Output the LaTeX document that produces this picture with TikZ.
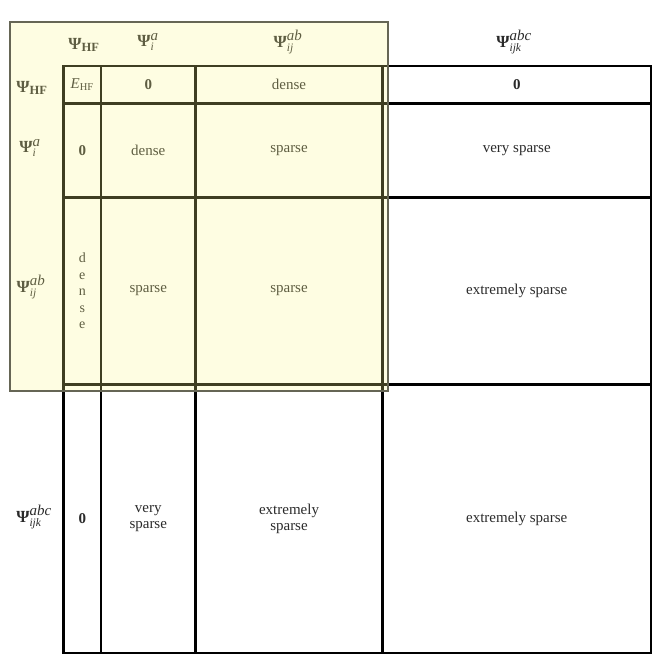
\documentclass[tikz,border=0pt]{standalone}
\usepackage{amsmath}
\usepackage{fontspec}
\setmainfont{Liberation Serif}
\definecolor{hl}{HTML}{FCF88A}
\definecolor{hlborder}{HTML}{666655}
\definecolor{txt}{HTML}{2A2A2A}
\newcommand{\Psiop}[2]{$\textbf{Ψ}^{\text{\fontsize{15}{15}\selectfont\textit{#1}}}_{\text{\fontsize{11.5}{12}\selectfont\textit{#2}}}$}
\newcommand{\PsiHF}{$\textbf{Ψ}_{\text{\fontsize{12.5}{13}\selectfont\textbf{HF}}}$}
\begin{document}
\begin{tikzpicture}[x=1pt,y=-1pt,
  cell/.style={draw=black, line width=2.2pt, inner sep=0pt, outer sep=0pt,
    align=center, text=txt, font=\fontsize{15}{16}\selectfont},
  hdr/.style={text=txt, inner sep=0pt, font=\fontsize{17}{19}\selectfont},
  hlbox/.style={fill=hl, fill opacity=0.25, draw=hlborder, draw opacity=1, line width=1.3pt}]
\useasboundingbox (0,0) rectangle (663,667);
% row 1
\node[cell, minimum width=37.5pt, minimum height=37.5pt] (c11) at (82.25,84.75) {$\textit{E}_{\text{HF}}$};
\node[cell, minimum width=94.5pt, minimum height=37.5pt] (c12) at (148.25,84.75) {\textbf{0}};
\node[cell, minimum width=187pt, minimum height=37.5pt] (c13) at (289,84.75) {dense};
\node[cell, minimum width=268.5pt, minimum height=37.5pt] (c14) at (516.75,84.75) {\textbf{0}};
% row 2
\node[cell, minimum width=37.5pt, minimum height=94pt] (c21) at (82.25,150.5) {\textbf{0}};
\node[cell, minimum width=94.5pt, minimum height=94pt] (c22) at (148.25,150.5) {dense};
\node[cell, minimum width=187pt, minimum height=94pt] (c23) at (289,150.5) {sparse};
\node[cell, minimum width=268.5pt, minimum height=94pt] (c24) at (516.75,150.5) {very sparse};
% row 3
\node[cell, minimum width=37.5pt, minimum height=187pt, font=\fontsize{14}{16.5}\selectfont] (c31) at (82.25,291) {d\\e\\n\\s\\e};
\node[cell, minimum width=94.5pt, minimum height=187pt] (c32) at (148.25,291) {sparse};
\node[cell, minimum width=187pt, minimum height=187pt] (c33) at (289,291) {sparse};
\node[cell, minimum width=268.5pt, minimum height=187pt] (c34) at (516.75,291) {extremely sparse};
% row 4
\node[cell, minimum width=37.5pt, minimum height=268.5pt] (c41) at (82.25,518.75) {\textbf{0}};
\node[cell, minimum width=94.5pt, minimum height=268.5pt] (c42) at (148.25,518.75) {very\\sparse};
\node[cell, minimum width=187pt, minimum height=268.5pt] (c43) at (289,518.75) {extremely\\sparse};
\node[cell, minimum width=268.5pt, minimum height=268.5pt] (c44) at (516.75,518.75) {extremely sparse};
% column headers
\node[hdr] (h1) at (84,45) {\PsiHF};
\node[hdr] (h2) at (148,42) {\Psiop{a}{i}};
\node[hdr] (h3) at (288,42) {\Psiop{ab}{ij}};
\node[hdr] (h4) at (514,42) {\Psiop{abc}{ijk}};
% row labels
\node[hdr] (l1) at (32,88) {\PsiHF};
\node[hdr] (l2) at (30,148) {\Psiop{a}{i}};
\node[hdr] (l3) at (31,287) {\Psiop{ab}{ij}};
\node[hdr] (l4) at (34,517) {\Psiop{abc}{ijk}};
% highlight overlay
\path[hlbox] (10,22) rectangle (388,391);
\end{tikzpicture}
\end{document}
